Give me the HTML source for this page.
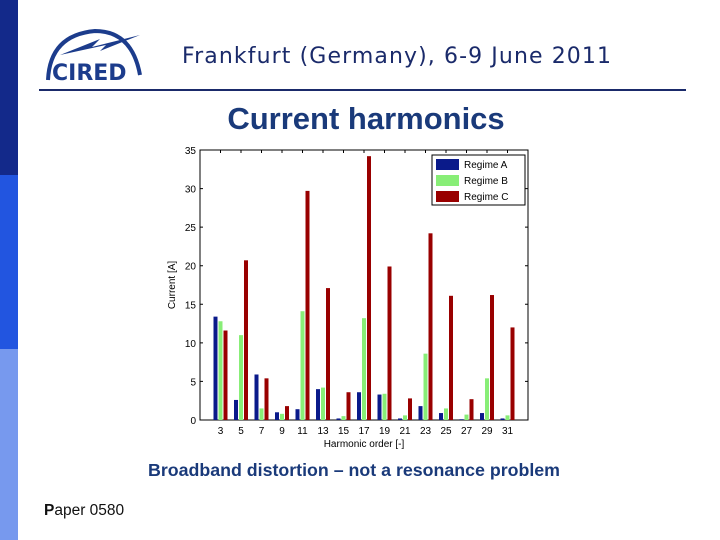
<!DOCTYPE html>
<html><head><meta charset="utf-8"><style>
body{margin:0;width:720px;height:540px;background:#fff;position:relative;overflow:hidden;font-family:"Liberation Sans",sans-serif}
.abs{position:absolute}
</style></head><body>
<div class="abs" style="left:0;top:0;width:18px;height:175px;background:#13298a"></div>
<div class="abs" style="left:0;top:175px;width:18px;height:174px;background:#2255e0"></div>
<div class="abs" style="left:0;top:349px;width:18px;height:191px;background:#7799ee"></div>
<svg class="abs" style="left:40px;top:25px" width="110" height="60" viewBox="0 0 110 60">
<path d="M8 55 Q10 10 55 6 Q92 6 100 50" fill="none" stroke="#1c3c8c" stroke-width="4"/>
<path d="M20 30 L60 14 L52 22 L100 10 L60 26 L66 20 Z" fill="#1c3c8c"/>
<text x="12" y="55" font-family="DejaVu Sans, sans-serif" font-weight="bold" font-size="22" fill="#1c3c8c">CIRED</text>
</svg>
<div class="abs" style="left:182px;top:44px;font-family:'DejaVu Sans',sans-serif;font-size:22px;color:#1a2a6a;letter-spacing:1.1px;white-space:nowrap">Frankfurt (Germany), 6-9 June 2011</div>
<div class="abs" style="left:39px;top:89px;width:647px;height:2px;background:#1a2a6a"></div>
<div class="abs" style="left:0;width:732px;top:101px;text-align:center;font-size:31px;font-weight:bold;color:#1a3a7a">Current harmonics</div>
<div class="abs" style="left:148px;top:460px;font-size:17.8px;font-weight:bold;color:#1a3a7a;white-space:nowrap">Broadband distortion – not a resonance problem</div>
<div class="abs" style="left:44px;top:502px;font-size:15.5px;color:#111"><b>P</b>aper 0580</div>
<svg class="abs" id="chart" style="left:0;top:0" width="720" height="540"></svg>
<script>
const orders=[3,5,7,9,11,13,15,17,19,21,23,25,27,29,31];
const regimeA=[13.4,2.6,5.9,1.0,1.4,4.0,0.2,3.6,3.3,0.2,1.8,0.9,0.1,0.9,0.2];
const regimeB=[12.8,11.0,1.5,0.8,14.1,4.2,0.5,13.2,3.4,0.6,8.6,1.5,0.7,5.4,0.6];
const regimeC=[11.6,20.7,5.4,1.8,29.7,17.1,3.6,34.2,19.9,2.8,24.2,16.1,2.7,16.2,12.0];
const yTicks=[0,5,10,15,20,25,30,35];
const seriesNames=["Regime A","Regime B","Regime C"];
const colors=["#0a1a8a","#88ee77","#990000"];
const NS="http://www.w3.org/2000/svg";
const svg=document.getElementById('chart');
const L=200,R=528,T=150,B=420;
const x=v=>L+(v-1)/32*(R-L);
const y=v=>B-v/35*(B-T);
function el(tag,attrs,text){const e=document.createElementNS(NS,tag);for(const k in attrs)e.setAttribute(k,attrs[k]);if(text!==undefined)e.textContent=text;svg.appendChild(e);return e;}
const frame=el('rect',{x:L,y:T,width:R-L,height:B-T,fill:'#fff',stroke:'#000','stroke-width':1});


yTicks.forEach(t=>{
 const ln=el('path',{d:`M${L} ${y(t)}h3M${R} ${y(t)}h-3`,stroke:'#000'});
 
 
 const tx=el('text',{x:L-4,y:y(t)+4,'text-anchor':'end','font-size':10,fill:'#000'},String(t));
 
 
});
const series=[regimeA,regimeB,regimeC];
orders.forEach((o,i)=>{
 const tk=el('path',{d:`M${x(o)} ${B}v-3M${x(o)} ${T}v3`,stroke:'#000'});
 
 
 const tx=el('text',{x:x(o),y:B+14,'text-anchor':'middle','font-size':10,fill:'#000'},String(o));
 
 
 series.forEach((s,j)=>{
  const cx=x(o)+(j-1)*5;
  const r=el('rect',{x:cx-2,y:y(s[i]),width:4,height:B-y(s[i]),fill:colors[j]});
  
  
 });
});
const xt=el('text',{x:364,y:447,'text-anchor':'middle','font-size':10,fill:'#000'},'Harmonic order [-]');


const yt=el('text',{x:0,y:0,'text-anchor':'middle','font-size':10,fill:'#000',transform:'translate(175,285) rotate(-90)'},'Current [A]');


const lg=el('rect',{x:432,y:155,width:93,height:50,fill:'#fff',stroke:'#000'});


seriesNames.forEach((n,j)=>{
 const sw=el('rect',{x:436,y:159+j*16,width:23,height:11,fill:colors[j]});
 
 
 const t=el('text',{x:464,y:168+j*16,'font-size':10,fill:'#000'},n);
 
 
});
</script>
</body></html>
